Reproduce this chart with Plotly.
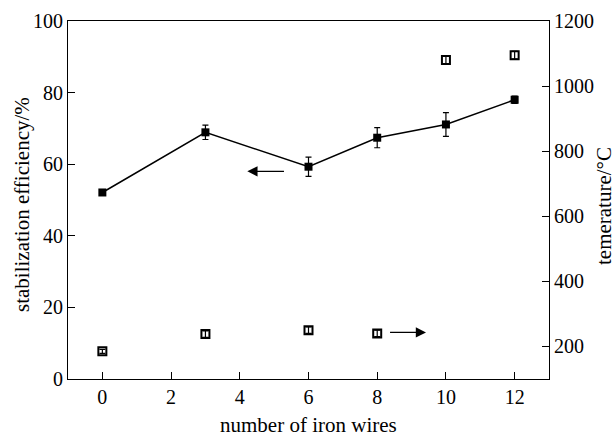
import plotly.graph_objects as go

iron_wires = [0, 3, 6, 8, 10, 12]
efficiency = [52.1, 68.9, 59.3, 67.4, 71.1, 78.0]
efficiency_err = [0.6, 2.0, 2.7, 2.8, 3.3, 1.0]
temp_x = [0, 3, 6, 8, 10, 12]
temperature = [185, 238, 250, 240, 1080, 1095]
temperature_err = [6, 10, 10, 10, 12, 12]

FAM = "Liberation Serif, Times New Roman, serif"
tick_font = dict(family=FAM, size=20, color="black")
title_font = dict(family=FAM, size=21, color="black")

fig = go.Figure()
fig.add_trace(go.Scatter(
    x=iron_wires, y=efficiency, mode="lines+markers",
    line=dict(color="black", width=1.5),
    marker=dict(symbol="square", size=8, color="black"),
    error_y=dict(type="data", array=efficiency_err, color="black", thickness=1.2, width=3),
    showlegend=False, yaxis="y"))
fig.add_trace(go.Scatter(
    x=temp_x, y=temperature, mode="markers",
    marker=dict(symbol="square-open", size=8, color="black", line=dict(width=2)),
    error_y=dict(type="data", array=temperature_err, color="black", thickness=1.2, width=3),
    showlegend=False, yaxis="y2"))

fig.add_annotation(x=4.22, y=58.0, ax=5.33, ay=58.0, xref="x", yref="y", axref="x", ayref="y",
                   text="", showarrow=True, arrowhead=2, arrowsize=1.7, arrowwidth=1.2, arrowcolor="black")
fig.add_annotation(x=9.42, y=13.0, ax=8.33, ay=13.0, xref="x", yref="y", axref="x", ayref="y",
                   text="", showarrow=True, arrowhead=2, arrowsize=1.7, arrowwidth=1.2, arrowcolor="black")

# axis titles
fig.add_annotation(text="stabilization efficiency/%", xref="paper", yref="paper", x=0, y=0.5,
                   xanchor="center", yanchor="middle", xshift=-46, yshift=-5, textangle=-90,
                   showarrow=False, font=title_font)
fig.add_annotation(text="temerature/°C", xref="paper", yref="paper", x=1, y=0.5,
                   xanchor="center", yanchor="middle", xshift=55, yshift=-6, textangle=-90,
                   showarrow=False, font=title_font)
fig.add_annotation(text="number of iron wires", xref="paper", yref="paper", x=0.5, y=0,
                   xanchor="center", yanchor="middle", yshift=-46,
                   showarrow=False, font=title_font)

fig.update_layout(
    width=616, height=437,
    margin=dict(l=68, r=67, t=21, b=58),
    paper_bgcolor="white", plot_bgcolor="white",
    font=tick_font,
    xaxis=dict(range=[-1, 13], tickvals=[0, 2, 4, 6, 8, 10, 12], automargin=False,
               showline=True, linecolor="black", linewidth=1.2, mirror=True,
               ticks="inside", ticklen=7, tickcolor="black", showgrid=False, zeroline=False,
               tickfont=tick_font),
    yaxis=dict(range=[0, 100], tickvals=[0, 20, 40, 60, 80, 100], automargin=False,
               showline=True, linecolor="black", linewidth=1.2,
               ticks="inside", ticklen=7, tickcolor="black", showgrid=False, zeroline=False,
               tickfont=tick_font),
    yaxis2=dict(range=[100, 1200], tickvals=[200, 400, 600, 800, 1000, 1200], automargin=False,
                overlaying="y", side="right",
                showline=True, linecolor="black", linewidth=1.2,
                ticks="inside", ticklen=7, tickcolor="black", showgrid=False, zeroline=False,
                tickfont=tick_font),
)

fig.write_html("out.html", config={"displayModeBar": False},
               post_script="document.body.style.margin='0';document.body.style.overflow='hidden';")
